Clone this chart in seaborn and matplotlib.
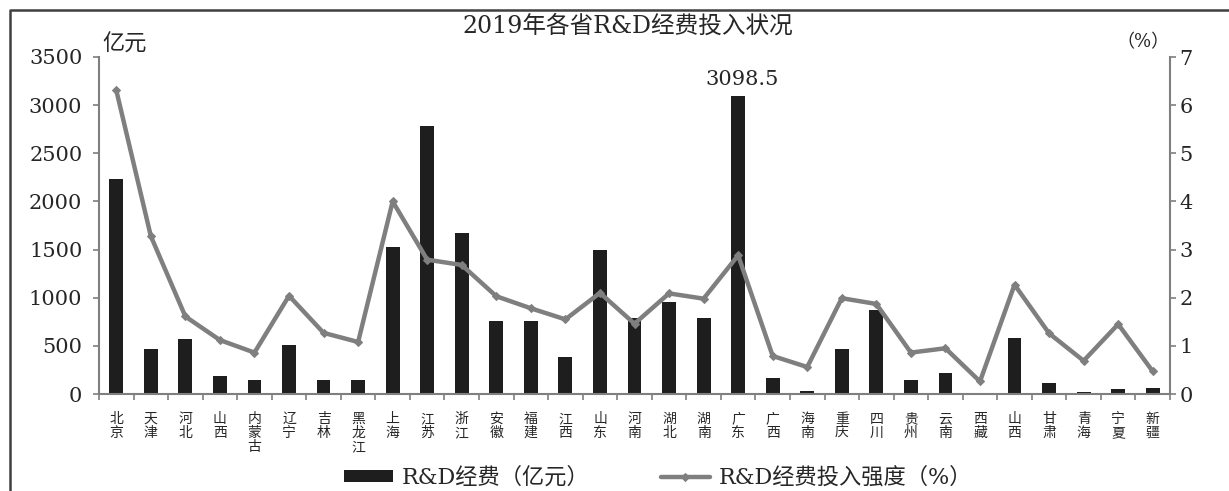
import numpy as np
import pandas as pd
import matplotlib.pyplot as plt
import seaborn as sns
from matplotlib.lines import Line2D

# 2019 R&D spending by province
provinces = ["北京", "天津", "河北", "山西", "内蒙古", "辽宁", "吉林", "黑龙江",
             "上海", "江苏", "浙江", "安徽", "福建", "江西", "山东", "河南",
             "湖北", "湖南", "广东", "广西", "海南", "重庆", "四川", "贵州",
             "云南", "西藏", "山西", "甘肃", "青海", "宁夏", "新疆"]
spending = [2233.6, 463.0, 566.7, 191.2, 147.8, 508.5, 148.4, 146.6,
            1524.6, 2779.5, 1669.8, 754.0, 753.7, 384.3, 1494.7, 793.0,
            957.9, 787.2, 3098.5, 167.1, 29.9, 469.6, 871.0, 144.7,
            220.0, 4.3, 584.6, 110.2, 20.6, 54.5, 64.1]
intensity = [6.31, 3.28, 1.61, 1.12, 0.86, 2.04, 1.27, 1.08,
             4.00, 2.79, 2.68, 2.03, 1.78, 1.55, 2.10, 1.46,
             2.09, 1.98, 2.88, 0.79, 0.56, 1.99, 1.87, 0.86,
             0.95, 0.26, 2.27, 1.26, 0.69, 1.45, 0.47]
left_ticks = [0, 500, 1000, 1500, 2000, 2500, 3000, 3500]
right_ticks = [0, 1, 2, 3, 4, 5, 6, 7]

sns.set_style("ticks")
plt.rcParams['font.family'] = ['DejaVu Serif', 'Noto Sans CJK SC']

df = pd.DataFrame({"pos": np.arange(len(provinces)), "province": provinces,
                   "spending": spending, "intensity": intensity})

gray = "#7f7f7f"
W, H = 1229, 491
fig = plt.figure(figsize=(W / 100, H / 100), dpi=100)
ax = fig.add_axes([99 / W, 1 - 394 / H, (1170 - 99) / W, (394 - 57) / H])

sns.barplot(data=df, x="pos", y="spending", color="#1e1e1e", saturation=1,
            width=0.4, linewidth=0, edgecolor="#1e1e1e", ax=ax)
ax2 = ax.twinx()
sns.lineplot(data=df, x="pos", y="intensity", color=gray, lw=3.2,
             marker="D", markersize=4, markeredgecolor=gray, ax=ax2)

ax.set_xlim(-0.5, len(provinces) - 0.5)
ax.set_ylim(0, 3500)
ax2.set_ylim(0, 7)
ax.set_yticks(left_ticks)
ax2.set_yticks(right_ticks)
ax.set_xlabel("")
ax.set_ylabel("")
ax2.set_ylabel("")

ax.set_xticks(np.arange(len(provinces)))
ax.set_xticklabels(["\n".join(p) for p in provinces], fontsize=10,
                   linespacing=1.0, va="top")
ax.set_xticks(np.arange(-0.5, len(provinces), 1), minor=True)
ax.tick_params(axis="x", which="major", length=0, pad=13)
ax.tick_params(axis="x", which="minor", length=4, width=1.2, color=gray,
               direction="out")
ax.tick_params(axis="y", length=4, width=1.2, color=gray, labelsize=15, pad=8)
ax2.tick_params(axis="y", length=4, width=1.2, color=gray, labelsize=15, pad=3)

for s in ["top", "right"]:
    ax.spines[s].set_visible(False)
for s in ["top", "left", "bottom"]:
    ax2.spines[s].set_visible(False)
for s in ["left", "bottom"]:
    ax.spines[s].set_color(gray)
    ax.spines[s].set_linewidth(1.5)
ax2.spines["right"].set_color(gray)
ax2.spines["right"].set_linewidth(1.5)

# peak label on 广东
gd = provinces.index("广东")
ax.annotate(f"{spending[gd]}", xy=(gd, spending[gd]), xytext=(3, 5),
            textcoords="offset points", ha="center", va="bottom", fontsize=15)

fig.text(628 / W, 1 - 26 / H, "2019年各省R&D经费投入状况", ha="center",
         va="center", fontsize=17)
fig.text(102 / W, 1 - 45 / H, "亿元", ha="left", va="center", fontsize=16)
fig.text(1170 / W, 1 - 42 / H, "（%）", ha="right", va="center", fontsize=13)

fig.legend(handles=[ax.patches[0], ax2.lines[0]],
           labels=["R&D经费（亿元）", "R&D经费投入强度（%）"],
           loc="center", bbox_to_anchor=(658 / W, 1 - 478 / H), ncol=2,
           frameon=False, fontsize=16, handlelength=2.2, handleheight=0.4,
           columnspacing=3.2, handletextpad=0.4)

# outer frame (cut off at right and bottom)
fig.add_artist(Line2D([10 / W, 10 / W, 1], [0, 1 - 10 / H, 1 - 10 / H],
                      transform=fig.transFigure, color="#404040", lw=1.8))

fig.savefig("out.png", dpi=100)
